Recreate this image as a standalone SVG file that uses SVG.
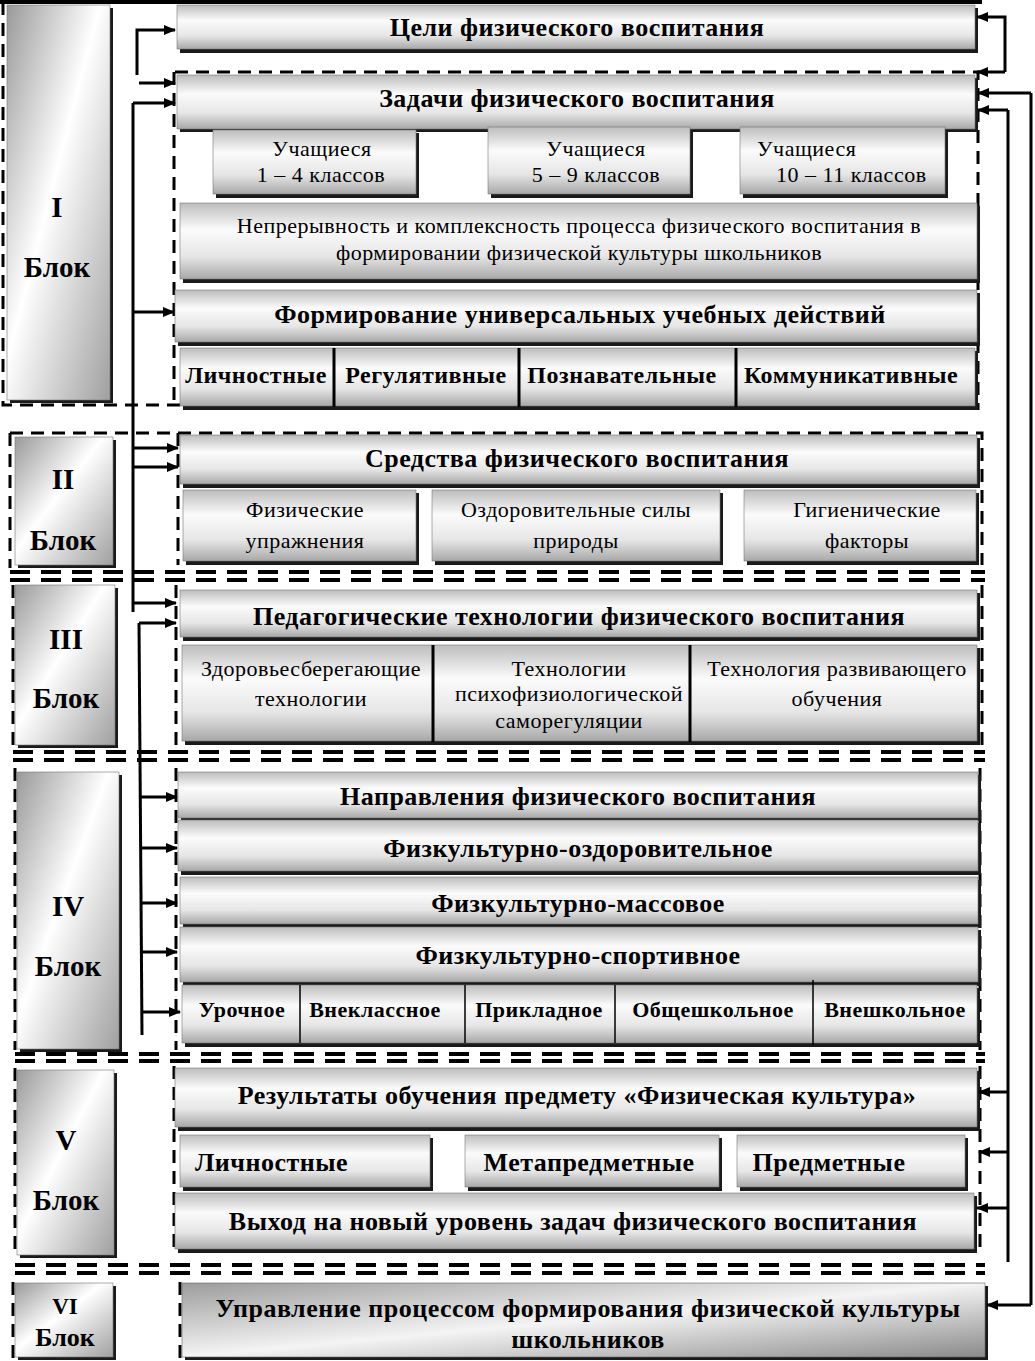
<svg xmlns="http://www.w3.org/2000/svg" width="1035" height="1361" viewBox="0 0 1035 1361">
<defs>
<linearGradient id="g" x1="0" y1="0" x2="0" y2="1">
<stop offset="0" stop-color="#bdbdbd"/>
<stop offset="0.35" stop-color="#fbfbfb"/>
<stop offset="0.7" stop-color="#e6e6e6"/>
<stop offset="1" stop-color="#a8a8a8"/>
</linearGradient>
<linearGradient id="gl" x1="0" y1="0" x2="1" y2="1">
<stop offset="0" stop-color="#9a9a9a"/>
<stop offset="0.45" stop-color="#ffffff"/>
<stop offset="1" stop-color="#a0a0a0"/>
</linearGradient>
<linearGradient id="gd" x1="0" y1="0" x2="1" y2="1">
<stop offset="0" stop-color="#9c9c9c"/>
<stop offset="0.5" stop-color="#f4f4f4"/>
<stop offset="1" stop-color="#8a8a8a"/>
</linearGradient>
<marker id="ar" viewBox="0 0 12 10" refX="11" refY="5" markerWidth="12" markerHeight="10" markerUnits="userSpaceOnUse" orient="auto">
<path d="M0,0 L12,5 L0,10 z" fill="#000"/>
</marker>
<style>
.b{fill:url(#g);stroke:#777;stroke-width:0.6}
.s{fill:#1a1a1a}
.lb{fill:url(#gl);stroke:#777;stroke-width:0.6}
.t{font-family:"Liberation Serif","Times New Roman",serif;fill:#000;text-anchor:middle}
.tb{font-weight:bold;font-size:26px;letter-spacing:0.5px}
.tr{font-size:22px;letter-spacing:0.5px}
.tm{font-weight:bold;font-size:24px;letter-spacing:0.5px}
.ts{font-weight:bold;font-size:22px;letter-spacing:0.5px}
.tl{font-weight:bold;font-size:29px}
.d{fill:none;stroke:#000;stroke-width:3;stroke-dasharray:13 8}
.dd{fill:none;stroke:#000;stroke-width:4;stroke-dasharray:20 11}
.c{fill:none;stroke:#000;stroke-width:3}
.a{fill:none;stroke:#000;stroke-width:3;marker-end:url(#ar)}
.v{stroke:#000;stroke-width:3}
</style>
</defs>
<rect width="1035" height="1361" fill="#fff"/>

<!-- frames -->
<g id="frames">
<line x1="0" y1="2" x2="982" y2="2" stroke="#000" stroke-width="4"/>
<path class="d" d="M3,2 V405 H180"/>
<path class="d" d="M175,72 H978 V410"/>
<path class="d" d="M174,72 V405"/>
<path class="d" d="M10,433 H982 V565"/>
<path class="d" d="M10,433 V568"/>
<path class="d" d="M178,433 V565"/>
<line class="dd" x1="10" y1="572" x2="985" y2="572"/>
<line class="dd" x1="10" y1="580" x2="985" y2="580"/>
<path class="d" d="M13,585 V745"/>
<path class="d" d="M176,585 V745"/>
<path class="d" d="M982,585 V745"/>
<line class="dd" x1="13" y1="752" x2="985" y2="752"/>
<line class="dd" x1="13" y1="760" x2="985" y2="760"/>
<path class="d" d="M15,768 V1050"/>
<path class="d" d="M176,768 V1050"/>
<path class="d" d="M980,768 V1050"/>
<line class="dd" x1="15" y1="1054" x2="985" y2="1054"/>
<line class="dd" x1="15" y1="1061" x2="985" y2="1061"/>
<path class="d" d="M15,1068 V1255"/>
<path class="d" d="M174,1066 V1252"/>
<path class="d" d="M980,1066 V1252"/>
<line class="dd" x1="15" y1="1265" x2="985" y2="1265"/>
<line class="dd" x1="15" y1="1273" x2="985" y2="1273"/>
<path class="d" d="M13,1282 V1360"/>
<path class="d" d="M180,1282 V1360"/>
</g>

<!-- Block labels -->
<g id="block1"><rect class="s" x="10" y="8" width="103" height="395"/><rect class="lb" x="7" y="5" width="103" height="395"/>
<text class="t tl" x="57" y="217">I</text><text class="t tl" x="57" y="277">Блок</text></g>
<g id="block2"><rect class="s" x="18" y="440" width="98" height="128"/><rect class="lb" x="15" y="437" width="98" height="128"/>
<text class="t tl" x="63" y="489">II</text><text class="t tl" x="63" y="550">Блок</text></g>
<g id="block3"><rect class="s" x="18" y="588" width="100" height="160"/><rect class="lb" x="15" y="585" width="100" height="160"/>
<text class="t tl" x="66" y="649">III</text><text class="t tl" x="66" y="708">Блок</text></g>
<g id="block4"><rect class="s" x="20" y="775" width="102" height="277"/><rect class="lb" x="17" y="772" width="102" height="277"/>
<text class="t tl" x="68" y="916">IV</text><text class="t tl" x="68" y="976">Блок</text></g>
<g id="block5"><rect class="s" x="20" y="1073" width="97" height="185"/><rect class="lb" x="17" y="1070" width="97" height="185"/>
<text class="t tl" x="66" y="1150">V</text><text class="t tl" x="66" y="1210">Блок</text></g>
<g id="block6"><rect class="s" x="18" y="1286" width="98" height="74"/><rect class="lb" x="15" y="1283" width="98" height="74"/>
<text class="t tl" x="65" y="1314" style="font-size:23px">VI</text><text class="t tl" x="65" y="1346" style="font-size:26px">Блок</text></g>

<!-- Block I nodes -->
<g id="celi"><rect class="s" x="180" y="8" width="798" height="45"/><rect class="b" x="177" y="5" width="798" height="44"/>
<text class="t tb" x="577" y="36">Цели физического воспитания</text></g>
<g id="zadachi"><rect class="s" x="180" y="78" width="798" height="54"/><rect class="b" x="177" y="75" width="798" height="54"/>
<text class="t tb" x="577" y="107">Задачи физического воспитания</text></g>
<g id="u14"><rect class="s" x="216" y="133" width="203" height="65"/><rect class="b" x="213" y="130" width="203" height="64"/>
<text class="t tr" x="322" y="156">Учащиеся</text><text class="t tr" x="321" y="182">1 – 4 классов</text></g>
<g id="u59"><rect class="s" x="491" y="130" width="202" height="68"/><rect class="b" x="488" y="127" width="202" height="67"/>
<text class="t tr" x="596" y="156">Учащиеся</text><text class="t tr" x="596" y="182">5 – 9 классов</text></g>
<g id="u1011"><rect class="s" x="743" y="130" width="205" height="68"/><rect class="b" x="740" y="127" width="205" height="67"/>
<text class="t tr" x="757" y="156" style="text-anchor:start">Учащиеся</text><text class="t tr" x="776" y="182" style="text-anchor:start">10 – 11 классов</text></g>
<g id="nepr"><rect class="s" x="183" y="206" width="797" height="77"/><rect class="b" x="180" y="203" width="797" height="76"/>
<text class="t tr" x="579" y="233">Непрерывность и комплексность процесса физического воспитания в</text>
<text class="t tr" x="579" y="260">формировании физической культуры школьников</text></g>
<g id="uud"><rect class="s" x="178" y="293" width="802" height="53"/><rect class="b" x="175" y="290" width="802" height="52"/>
<text class="t tb" x="580" y="323">Формирование универсальных учебных действий</text></g>
<g id="uudrow"><rect class="s" x="183" y="351" width="795" height="59"/><rect class="b" x="180" y="348" width="795" height="58"/>
<line class="v" x1="334" y1="348" x2="334" y2="407"/><line class="v" x1="519" y1="348" x2="519" y2="407"/><line class="v" x1="736" y1="348" x2="736" y2="407"/>
<text class="t tm" x="256" y="383">Личностные</text><text class="t tm" x="426" y="383">Регулятивные</text>
<text class="t tm" x="622" y="383">Познавательные</text><text class="t tm" x="851" y="383">Коммуникативные</text></g>

<!-- Block II nodes -->
<g id="sredstva"><rect class="s" x="183" y="438" width="797" height="50"/><rect class="b" x="180" y="435" width="797" height="49"/>
<text class="t tb" x="577" y="467">Средства физического воспитания</text></g>
<g id="fizupr"><rect class="s" x="186" y="493" width="233" height="72"/><rect class="b" x="183" y="490" width="233" height="71"/>
<text class="t tr" x="305" y="517">Физические</text><text class="t tr" x="305" y="548">упражнения</text></g>
<g id="ozdor"><rect class="s" x="435" y="493" width="288" height="72"/><rect class="b" x="432" y="490" width="288" height="71"/>
<text class="t tr" x="576" y="517">Оздоровительные силы</text><text class="t tr" x="576" y="548">природы</text></g>
<g id="gig"><rect class="s" x="747" y="493" width="232" height="72"/><rect class="b" x="744" y="490" width="232" height="71"/>
<text class="t tr" x="867" y="517">Гигиенические</text><text class="t tr" x="867" y="548">факторы</text></g>

<!-- Block III nodes -->
<g id="pedtech"><rect class="s" x="183" y="593" width="797" height="48"/><rect class="b" x="180" y="590" width="797" height="47"/>
<text class="t tb" x="579" y="625">Педагогические технологии физического воспитания</text></g>
<g id="techrow"><rect class="s" x="185" y="648" width="795" height="97"/><rect class="b" x="182" y="645" width="795" height="96"/>
<line class="v" x1="433" y1="645" x2="433" y2="742"/><line class="v" x1="690" y1="645" x2="690" y2="742"/>
<text class="t tr" x="311" y="676">Здоровьесберегающие</text><text class="t tr" x="311" y="706">технологии</text>
<text class="t tr" x="569" y="676">Технологии</text><text class="t tr" x="569" y="701">психофизиологической</text><text class="t tr" x="569" y="728">саморегуляции</text>
<text class="t tr" x="837" y="676">Технология развивающего</text><text class="t tr" x="837" y="706">обучения</text></g>

<!-- Block IV nodes -->
<g id="napr"><rect class="s" x="181" y="775" width="800" height="46"/><rect class="b" x="178" y="772" width="800" height="46"/>
<text class="t tb" x="578" y="805">Направления физического воспитания</text></g>
<g id="fo"><rect class="s" x="181" y="823" width="800" height="52"/><rect class="b" x="178" y="820" width="800" height="51"/>
<text class="t tb" x="578" y="857">Физкультурно-оздоровительное</text></g>
<g id="fm"><rect class="s" x="183" y="880" width="798" height="48"/><rect class="b" x="180" y="877" width="798" height="47"/>
<text class="t tb" x="578" y="912">Физкультурно-массовое</text></g>
<g id="fs"><rect class="s" x="183" y="930" width="798" height="56"/><rect class="b" x="180" y="927" width="798" height="55"/>
<text class="t tb" x="578" y="964">Физкультурно-спортивное</text></g>
<g id="formrow"><rect class="s" x="185" y="988" width="795" height="59"/><rect class="b" x="182" y="985" width="795" height="58"/>
<line x1="300" y1="985" x2="300" y2="1043" stroke="#000" stroke-width="1.5"/><line x1="465" y1="985" x2="465" y2="1043" stroke="#000" stroke-width="1.5"/>
<line x1="615" y1="985" x2="615" y2="1043" stroke="#000" stroke-width="1.5"/><line x1="813" y1="980" x2="813" y2="1045" stroke="#000" stroke-width="1.5"/>
<text class="t ts" x="242" y="1017">Урочное</text><text class="t ts" x="375" y="1017">Внеклассное</text>
<text class="t ts" x="539" y="1017">Прикладное</text><text class="t ts" x="713" y="1017">Общешкольное</text><text class="t ts" x="895" y="1017">Внешкольное</text></g>

<!-- Block V nodes -->
<g id="rez"><rect class="s" x="178" y="1071" width="802" height="60"/><rect class="b" x="175" y="1068" width="802" height="59"/>
<text class="t tb" x="577" y="1104">Результаты обучения предмету «Физическая культура»</text></g>
<g id="lichn"><rect class="s" x="183" y="1138" width="250" height="53"/><rect class="b" x="180" y="1135" width="250" height="52"/>
<text class="t tb" x="195" y="1171" style="text-anchor:start">Личностные</text></g>
<g id="meta"><rect class="s" x="468" y="1138" width="254" height="53"/><rect class="b" x="465" y="1135" width="254" height="52"/>
<text class="t tb" x="589" y="1171">Метапредметные</text></g>
<g id="predm"><rect class="s" x="740" y="1138" width="228" height="53"/><rect class="b" x="737" y="1135" width="228" height="52"/>
<text class="t tb" x="829" y="1171">Предметные</text></g>
<g id="vyhod"><rect class="s" x="178" y="1196" width="799" height="57"/><rect class="b" x="175" y="1193" width="799" height="56"/>
<text class="t tb" x="573" y="1230">Выход на новый уровень задач физического воспитания</text></g>

<!-- Block VI node -->
<g id="upr"><rect class="s" x="185" y="1286" width="803" height="74"/><rect x="182" y="1283" width="803" height="74" fill="url(#gd)" stroke="#666" stroke-width="0.6"/>
<text class="t tb" x="588" y="1317">Управление процессом формирования физической культуры</text>
<text class="t tb" x="588" y="1348">школьников</text></g>

<!-- connectors -->
<g id="connectors">
<path class="a" d="M137,75 V30 H175"/>
<path class="a" d="M139,83 H175"/>
<path class="c" d="M133,103 V612"/>
<path class="a" d="M133,103 H175"/>
<path class="a" d="M133,312 H174"/>
<path class="a" d="M133,448 H178"/>
<path class="a" d="M133,467 H178"/>
<path class="a" d="M133,603 H176"/>
<path class="c" d="M139,623 L142,1035"/>
<path class="a" d="M139,623 H176"/>
<path class="a" d="M141,797 H177"/>
<path class="a" d="M141,848 H177"/>
<path class="a" d="M141,903 H177"/>
<path class="a" d="M142,952 H177"/>
<path class="a" d="M142,1012 H180"/>
<path class="a" d="M1005,72 H977"/>
<path class="a" d="M1005,72 V17 H977"/>
<path class="c" d="M1031,93 V1305"/>
<path class="a" d="M1031,93 H978"/>
<path class="a" d="M1031,1305 H987"/>
<path class="c" d="M1008,110 V1262"/>
<path class="a" d="M1008,110 H978"/>
<path class="a" d="M1008,1092 H979"/>
<path class="a" d="M1008,1152 H979"/>
<path class="a" d="M1008,1208 H977"/>
</g>
</svg>
